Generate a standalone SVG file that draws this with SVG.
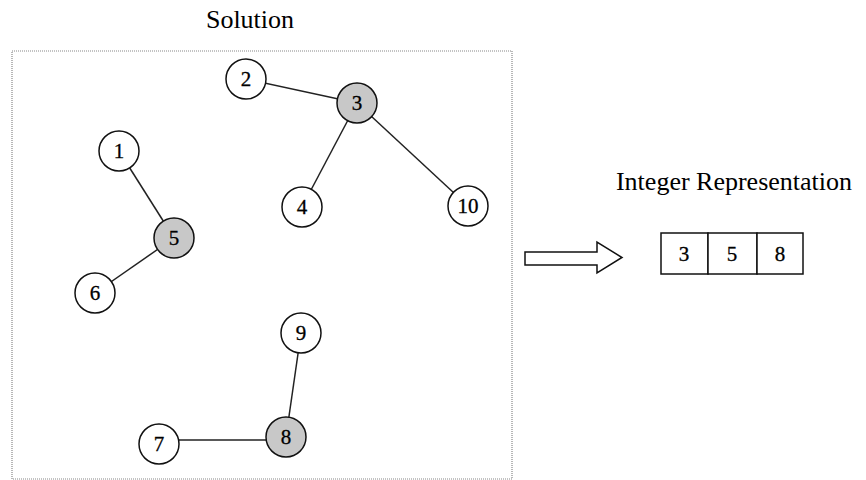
<svg xmlns="http://www.w3.org/2000/svg" width="866" height="480" viewBox="0 0 866 480">
<style>
text{font-family:"Liberation Serif","Times New Roman",serif;fill:#000}
.title{font-size:26px;text-anchor:middle}
.node circle{fill:#fff;stroke:#111;stroke-width:1.5}
.node.sel circle{fill:#c8c8c8}
.node text{font-size:21px;text-anchor:middle;stroke:#000;stroke-width:0.3}
.edge{stroke:#222;stroke-width:1.5}
.cell{fill:#fff;stroke:#111;stroke-width:1.5}
.cell-t{font-size:21px;text-anchor:middle;stroke:#000;stroke-width:0.3}
</style>
<rect width="866" height="480" fill="#fff"/>
<text class="title" x="250" y="28">Solution</text>
<rect id="frame" x="12" y="51" width="500" height="428" fill="none" stroke="#888" stroke-width="1.2" stroke-dasharray="1,1"/>
<g id="connectors">
<line class="edge" x1="246" y1="79" x2="357" y2="103"/>
<line class="edge" x1="357" y1="103" x2="302" y2="207"/>
<line class="edge" x1="357" y1="103" x2="468" y2="206"/>
<line class="edge" x1="119" y1="151" x2="174" y2="238"/>
<line class="edge" x1="174" y1="238" x2="95" y2="293"/>
<line class="edge" x1="301" y1="333" x2="286" y2="437"/>
<line class="edge" x1="170" y1="440" x2="276" y2="440"/>
</g>
<g id="n1" class="node"><circle cx="119" cy="151" r="20"/><text x="119" y="158">1</text></g>
<g id="n2" class="node"><circle cx="246" cy="79" r="20"/><text x="246" y="86">2</text></g>
<g id="n3" class="node sel"><circle cx="357" cy="103" r="20"/><text x="357" y="110">3</text></g>
<g id="n4" class="node"><circle cx="302" cy="207" r="20"/><text x="302" y="214">4</text></g>
<g id="n5" class="node sel"><circle cx="174" cy="238" r="20"/><text x="174" y="245">5</text></g>
<g id="n6" class="node"><circle cx="95" cy="293" r="20"/><text x="95" y="300">6</text></g>
<g id="n7" class="node"><circle cx="159" cy="444" r="20"/><text x="159" y="451">7</text></g>
<g id="n8" class="node sel"><circle cx="286" cy="437" r="20"/><text x="286" y="444">8</text></g>
<g id="n9" class="node"><circle cx="301" cy="333" r="20"/><text x="301" y="340">9</text></g>
<g id="n10" class="node"><circle cx="468" cy="206" r="20"/><text x="468" y="213">10</text></g>
<g id="arrow">
<polygon points="525,252 597,252 597,242 622,257.5 597,273 597,265 525,265" fill="#fff" stroke="#111" stroke-width="1.5"/>
</g>
<text class="title" x="734" y="190">Integer Representation</text>
<g id="integer-rep">
<rect class="cell" x="661" y="233" width="47" height="41"/>
<rect class="cell" x="708" y="233" width="49" height="41"/>
<rect class="cell" x="757" y="233" width="46" height="41"/>
<text class="cell-t" x="684" y="261">3</text>
<text class="cell-t" x="732" y="261">5</text>
<text class="cell-t" x="780" y="261">8</text>
</g>
</svg>
